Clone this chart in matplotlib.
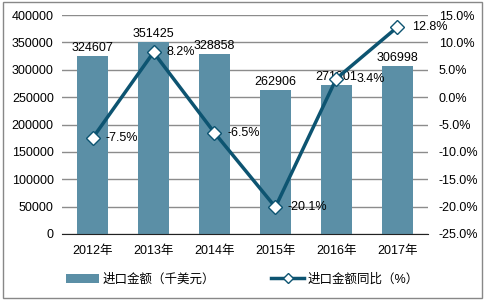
import numpy as np
import matplotlib
matplotlib.use("Agg")
import matplotlib.pyplot as plt
from matplotlib.patches import Rectangle

plt.rcParams['font.family'] = ['Liberation Sans', 'Noto Sans CJK SC']

years = ['2012年', '2013年', '2014年', '2015年', '2016年', '2017年']
amount = [324607, 351425, 328858, 262906, 271801, 306998]
growth = [-7.5, 8.2, -6.5, -20.1, 3.4, 12.8]

bar_color = '#5b8fa6'
line_color = '#0d5471'
# horizontal offset of each percentage label from its marker
label_dx = [0.21, 0.22, 0.22, 0.2, 0.33, 0.24]

fig = plt.figure(figsize=(4.85, 3.03), dpi=100)
ax = fig.add_axes([0.128, 0.228, 0.754, 0.722])
x = np.arange(len(years))

ax.bar(x, amount, width=0.5, color=bar_color, label='进口金额（千美元）', zorder=2)
ax.set_ylim(0, 400000)
ax.set_xlim(-0.5, len(years) - 0.5)
ax.set_yticks(np.arange(0, 400001, 50000))
ax.set_xticks(x)
ax.set_xticklabels(years)
ax.grid(axis='y', color='#8c8c8c', linewidth=1, zorder=0)
for s in ['top', 'left', 'right']:
    ax.spines[s].set_visible(False)
ax.spines['bottom'].set_color('#222222')
ax.tick_params(length=0, labelsize=9, pad=6)
ax.tick_params(axis='x', pad=8)
for xi, v in zip(x, amount):
    ax.text(xi, v + 4000, str(v), ha='center', va='bottom', fontsize=9)

ax2 = ax.twinx()
ax2.plot(x, growth, color=line_color, linewidth=2.5, marker='D', markersize=7,
         markerfacecolor='white', markeredgecolor=line_color, markeredgewidth=1,
         label='进口金额同比（%）', zorder=3)
ax2.set_ylim(-25, 15)
ax2.set_yticks(np.arange(-25, 15.1, 5))
ax2.set_yticklabels(['%.1f%%' % t for t in np.arange(-25, 15.1, 5)])
for s in ['top', 'left', 'right', 'bottom']:
    ax2.spines[s].set_visible(False)
ax2.tick_params(length=0, labelsize=9, pad=8)
for xi, g, dx in zip(x, growth, label_dx):
    ax2.text(xi + dx, g, '%.1f%%' % g, ha='left', va='center', fontsize=9)

h1, l1 = ax.get_legend_handles_labels()
h2, l2 = ax2.get_legend_handles_labels()
fig.legend(h1 + h2, l1 + l2, loc='center', bbox_to_anchor=(0.5, 0.078), ncol=2,
           frameon=False, fontsize=9, handlelength=2.6, columnspacing=4.5,
           handletextpad=0.3, markerscale=0.75)

fig.patches.append(Rectangle((0.006, 0.018), 0.988, 0.975, transform=fig.transFigure,
                             fill=False, edgecolor='#888888', linewidth=1))

fig.savefig('out.png', dpi=100)
